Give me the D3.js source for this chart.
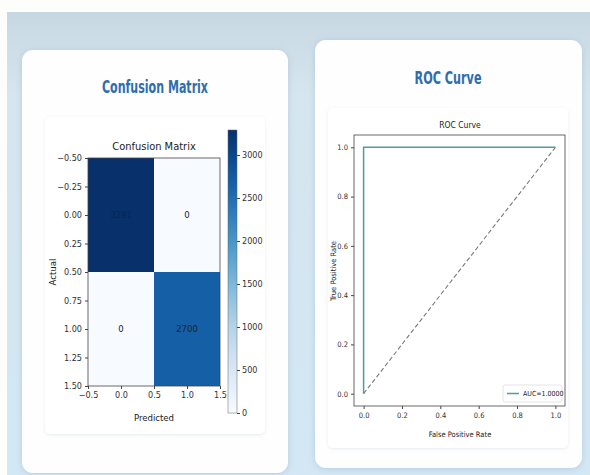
<!DOCTYPE html>
<html>
<head>
<meta charset="utf-8">
<script src="https://cdn.jsdelivr.net/npm/d3@7"></script>
<style>
  html, body { margin: 0; padding: 0; background: #fdfdfb; }
  svg { display: block; }
  text { font-family: "DejaVu Sans Condensed", "DejaVu Sans", sans-serif; fill: #222; }
</style>
</head>
<body>
<svg id="chart" width="590" height="475"></svg>
<script>
// Confusion matrix counts (rows = actual, cols = predicted)
const classes = [0, 1];
const matrix = [
  [3291, 0],
  [0, 2700]
];
const heatXTicks = [-0.5, 0.0, 0.5, 1.0, 1.5];
const heatYTicks = [-0.50, -0.25, 0.00, 0.25, 0.50, 0.75, 1.00, 1.25, 1.50];
const colorbarTicks = [0, 500, 1000, 1500, 2000, 2500, 3000];

// ROC curve points
const fpr = [0.0, 0.0, 1.0];
const tpr = [0.0, 1.0, 1.0];
const chance = [0, 1];
const aucLabel = "AUC=1.0000";
const rocTicks = [0.0, 0.2, 0.4, 0.6, 0.8, 1.0];

const svg = d3.select("#chart");
const defs = svg.append("defs");

// page background
const bg = defs.append("linearGradient").attr("id", "bg").attr("x1", 0).attr("y1", 0).attr("x2", 0).attr("y2", 1);
bg.append("stop").attr("offset", "0%").attr("stop-color", "#c8d8e2");
bg.append("stop").attr("offset", "18%").attr("stop-color", "#d6e5ee");
bg.append("stop").attr("offset", "100%").attr("stop-color", "#d3e7f5");
svg.append("rect").attr("x", 0).attr("y", 0).attr("width", 590).attr("height", 475).attr("fill", "#fdfdfb");
svg.append("rect").attr("x", 7).attr("y", 12).attr("width", 583).attr("height", 463).attr("fill", "url(#bg)");

const shadow = defs.append("filter").attr("id", "shadow").attr("x", "-10%").attr("y", "-10%").attr("width", "120%").attr("height", "120%");
shadow.append("feDropShadow").attr("dx", 0).attr("dy", 1).attr("stdDeviation", 3)
  .attr("flood-color", "#7fa3bd").attr("flood-opacity", 0.35);
const soft = defs.append("filter").attr("id", "soft").attr("x", "-10%").attr("y", "-10%").attr("width", "120%").attr("height", "120%");
soft.append("feDropShadow").attr("dx", 0).attr("dy", 1).attr("stdDeviation", 1.5)
  .attr("flood-color", "#9fb3c2").attr("flood-opacity", 0.25);

// cards
function card(x, y, w, h, title, tx, ty, tw) {
  svg.append("rect").attr("x", x).attr("y", y).attr("width", w).attr("height", h)
    .attr("rx", 11).attr("fill", "#fefefe").attr("filter", "url(#shadow)");
  svg.append("text").attr("x", tx).attr("y", ty).attr("text-anchor", "middle")
    .attr("font-family", "Roboto, 'DejaVu Sans', sans-serif").attr("font-weight", "bold")
    .attr("font-size", 18).style("fill", "#2f6dae")
    .attr("textLength", tw).attr("lengthAdjust", "spacingAndGlyphs")
    .text(title);
}
card(22, 50, 266, 423, "Confusion Matrix", 155, 93, 106);
card(315, 40, 267, 428, "ROC Curve", 448, 84, 67);

// inner figure panels
svg.append("rect").attr("x", 45).attr("y", 117).attr("width", 220).attr("height", 317)
  .attr("rx", 5).attr("fill", "#ffffff").attr("filter", "url(#soft)");
svg.append("rect").attr("x", 328).attr("y", 108).attr("width", 240).attr("height", 340)
  .attr("rx", 5).attr("fill", "#ffffff").attr("filter", "url(#soft)");

// ---------- Confusion matrix heatmap ----------
const vmax = d3.max(matrix.flat());
const color = d3.scaleSequential(d3.interpolateBlues).domain([0, vmax]);
const hx = d3.scaleLinear().domain([-0.5, 1.5]).range([88, 220]);
const hy = d3.scaleLinear().domain([-0.5, 1.5]).range([158, 386]);

const cm = svg.append("g");
const cells = [];
matrix.forEach((row, i) => row.forEach((v, j) => cells.push({ i, j, v })));
cm.selectAll("rect.cell").data(cells).join("rect").attr("class", "cell")
  .attr("x", d => hx(classes[d.j] - 0.5)).attr("y", d => hy(classes[d.i] - 0.5))
  .attr("width", d => hx(classes[d.j] + 0.5) - hx(classes[d.j] - 0.5))
  .attr("height", d => hy(classes[d.i] + 0.5) - hy(classes[d.i] - 0.5))
  .attr("fill", d => color(d.v));
cm.selectAll("text.ann").data(cells).join("text").attr("class", "ann")
  .attr("x", d => hx(classes[d.j])).attr("y", d => hy(classes[d.i]))
  .attr("dy", "0.35em").attr("text-anchor", "middle").attr("font-size", 9.5)
  .style("fill", d => d.v > vmax * 0.9 ? "#0b2550" : "#222")
  .text(d => d.v);
cm.append("rect").attr("x", hx(-0.5)).attr("y", hy(-0.5))
  .attr("width", hx(1.5) - hx(-0.5)).attr("height", hy(1.5) - hy(-0.5))
  .attr("fill", "none").attr("stroke", "#444").attr("stroke-width", 0.8);

const fmt2 = v => d3.format(".2f")(v).replace("-", "\u2212");
const fmt1 = v => d3.format(".1f")(v).replace("-", "\u2212");

const hxAxis = cm.append("g").attr("transform", `translate(0,${hy(1.5)})`)
  .call(d3.axisBottom(hx).tickValues(heatXTicks).tickFormat(fmt1).tickSize(3).tickPadding(3));
const hyAxis = cm.append("g").attr("transform", `translate(${hx(-0.5)},0)`)
  .call(d3.axisLeft(hy).tickValues(heatYTicks).tickFormat(fmt2).tickSize(3).tickPadding(3));
[hxAxis, hyAxis].forEach(a => {
  a.select(".domain").remove();
  a.selectAll("line").attr("stroke", "#444");
  a.selectAll("text").attr("font-size", 9).attr("font-family", "'DejaVu Sans Condensed', sans-serif").style("fill", "#333");
});

cm.append("text").attr("x", 154).attr("y", 150).attr("text-anchor", "middle").attr("font-size", 11)
  .text("Confusion Matrix");
cm.append("text").attr("x", 154).attr("y", 421).attr("text-anchor", "middle").attr("font-size", 9.5)
  .text("Predicted");
cm.append("text").attr("transform", "translate(56,272) rotate(-90)").attr("text-anchor", "middle")
  .attr("font-size", 9.5).text("Actual");

// colorbar
const cbTop = 130, cbBot = 413, cbX = 228, cbW = 9;
const cby = d3.scaleLinear().domain([0, vmax]).range([cbBot, cbTop]);
const cbg = defs.append("linearGradient").attr("id", "cbgrad").attr("x1", 0).attr("y1", 1).attr("x2", 0).attr("y2", 0);
d3.range(0, 1.0001, 0.1).forEach(t => {
  cbg.append("stop").attr("offset", `${t * 100}%`).attr("stop-color", color(t * vmax));
});
svg.append("rect").attr("x", cbX).attr("y", cbTop).attr("width", cbW).attr("height", cbBot - cbTop)
  .attr("fill", "url(#cbgrad)").attr("stroke", "#666").attr("stroke-width", 0.5);
const cbAxis = svg.append("g").attr("transform", `translate(${cbX + cbW},0)`)
  .call(d3.axisRight(cby).tickValues(colorbarTicks).tickFormat(d3.format("d")).tickSize(3).tickPadding(2));
cbAxis.select(".domain").remove();
cbAxis.selectAll("line").attr("stroke", "#444");
cbAxis.selectAll("text").attr("font-size", 9).attr("font-family", "'DejaVu Sans Condensed', sans-serif").style("fill", "#333");

// ---------- ROC curve ----------
const rx = d3.scaleLinear().domain([-0.05, 1.05]).range([354, 565]);
const ry = d3.scaleLinear().domain([-0.05, 1.05]).range([406, 135]);
const roc = svg.append("g");

roc.append("rect").attr("x", rx(-0.05)).attr("y", ry(1.05))
  .attr("width", rx(1.05) - rx(-0.05)).attr("height", ry(-0.05) - ry(1.05))
  .attr("fill", "#fff").attr("stroke", "#444").attr("stroke-width", 0.8);

const line = d3.line().x(d => rx(d[0])).y(d => ry(d[1]));
roc.append("path").datum(chance.map(v => [v, v])).attr("d", line)
  .attr("fill", "none").attr("stroke", "#7a7a7a").attr("stroke-width", 1.1).attr("stroke-dasharray", "4.5,2.5");
roc.append("path").datum(fpr.map((f, i) => [f, tpr[i]])).attr("d", line)
  .attr("fill", "none").attr("stroke", "#4f9aa3").attr("stroke-width", 1.5);

const rxAxis = roc.append("g").attr("transform", `translate(0,${ry(-0.05)})`)
  .call(d3.axisBottom(rx).tickValues(rocTicks).tickFormat(fmt1).tickSize(3).tickPadding(4));
const ryAxis = roc.append("g").attr("transform", `translate(${rx(-0.05)},0)`)
  .call(d3.axisLeft(ry).tickValues(rocTicks).tickFormat(fmt1).tickSize(3).tickPadding(3));
[rxAxis, ryAxis].forEach(a => {
  a.select(".domain").remove();
  a.selectAll("line").attr("stroke", "#444");
  a.selectAll("text").attr("font-size", 7.5).attr("font-family", "'DejaVu Sans Condensed', sans-serif").style("fill", "#333");
});

roc.append("text").attr("x", 460).attr("y", 128).attr("text-anchor", "middle").attr("font-size", 8.5)
  .text("ROC Curve");
roc.append("text").attr("x", 460).attr("y", 437).attr("text-anchor", "middle").attr("font-size", 7.5)
  .text("False Positive Rate");
roc.append("text").attr("transform", "translate(336,271) rotate(-90)").attr("text-anchor", "middle")
  .attr("font-size", 7.5).text("True Positive Rate");

// legend
const lg = roc.append("g").attr("transform", "translate(503,385)");
lg.append("rect").attr("width", 59).attr("height", 17).attr("rx", 2)
  .attr("fill", "#fff").attr("stroke", "#ddd").attr("stroke-width", 0.8);
lg.append("line").attr("x1", 4).attr("x2", 16).attr("y1", 8.5).attr("y2", 8.5)
  .attr("stroke", "#4f9aa3").attr("stroke-width", 1.5);
lg.append("text").attr("x", 20).attr("y", 8.5).attr("dy", "0.35em").attr("font-size", 7)
  .text(aucLabel);
</script>
</body>
</html>
